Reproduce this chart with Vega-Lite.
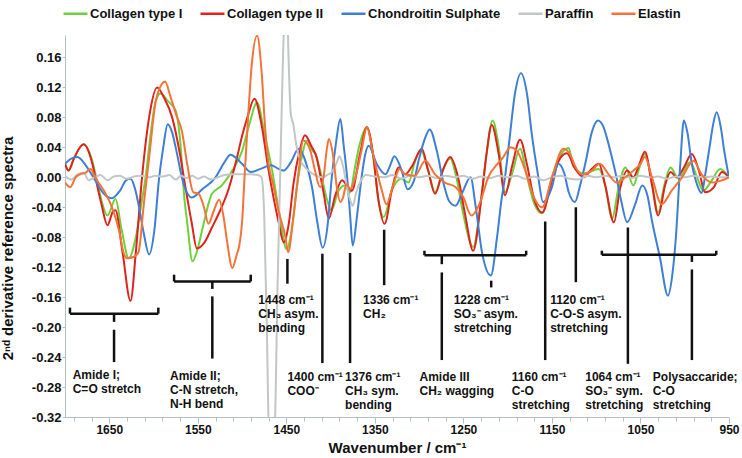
{
  "$schema": "https://vega.github.io/schema/vega-lite/v6.json",
  "width": 664,
  "height": 382,
  "autosize": {"type": "none"},
  "padding": {"left": 65, "top": 35, "right": 13, "bottom": 41},
  "background": "white",
  "config": {
    "view": {"stroke": null},
    "font": "Liberation Sans",
    "axis": {"grid": false, "labelOverlap": false, "domainColor": "#b4bec6", "tickColor": "#b4bec6", "labelColor": "#111", "labelFontWeight": "bold", "titleFontWeight": "bold", "titleColor": "#111", "labelFont": "Liberation Sans", "titleFont": "Liberation Sans"}
  },
  "resolve": {"axis": {"x": "independent", "y": "independent"}},
  "datasets": {
    "spectra": [
      {"s":"Collagen type I","x":1700,"y":0.018},{"s":"Collagen type I","x":1696,"y":0.009},{"s":"Collagen type I","x":1690,"y":0.025},{"s":"Collagen type I","x":1679,"y":0.044},{"s":"Collagen type I","x":1670,"y":0.025},{"s":"Collagen type I","x":1664,"y":-0.004},{"s":"Collagen type I","x":1659,"y":-0.03},{"s":"Collagen type I","x":1652,"y":-0.051},{"s":"Collagen type I","x":1643,"y":-0.029},{"s":"Collagen type I","x":1636,"y":-0.07},{"s":"Collagen type I","x":1628,"y":-0.108},{"s":"Collagen type I","x":1620,"y":-0.08},{"s":"Collagen type I","x":1613,"y":-0.03},{"s":"Collagen type I","x":1609,"y":0.0},{"s":"Collagen type I","x":1603,"y":0.06},{"s":"Collagen type I","x":1598,"y":0.1},{"s":"Collagen type I","x":1592,"y":0.112},{"s":"Collagen type I","x":1584,"y":0.102},{"s":"Collagen type I","x":1575,"y":0.089},{"s":"Collagen type I","x":1570,"y":0.05},{"s":"Collagen type I","x":1565,"y":-0.03},{"s":"Collagen type I","x":1562,"y":-0.06},{"s":"Collagen type I","x":1556,"y":-0.112},{"s":"Collagen type I","x":1550,"y":-0.095},{"s":"Collagen type I","x":1545,"y":-0.07},{"s":"Collagen type I","x":1534,"y":-0.022},{"s":"Collagen type I","x":1523,"y":-0.011},{"s":"Collagen type I","x":1511,"y":0.009},{"s":"Collagen type I","x":1500,"y":0.035},{"s":"Collagen type I","x":1492,"y":0.07},{"s":"Collagen type I","x":1483,"y":0.1},{"s":"Collagen type I","x":1475,"y":0.06},{"s":"Collagen type I","x":1466,"y":0.009},{"s":"Collagen type I","x":1459,"y":-0.04},{"s":"Collagen type I","x":1449.5,"y":-0.096},{"s":"Collagen type I","x":1444,"y":-0.07},{"s":"Collagen type I","x":1438,"y":-0.013},{"s":"Collagen type I","x":1432,"y":0.03},{"s":"Collagen type I","x":1427,"y":0.049},{"s":"Collagen type I","x":1420,"y":0.035},{"s":"Collagen type I","x":1417,"y":0.031},{"s":"Collagen type I","x":1410,"y":0.0},{"s":"Collagen type I","x":1404,"y":-0.03},{"s":"Collagen type I","x":1399,"y":-0.044},{"s":"Collagen type I","x":1391,"y":-0.018},{"s":"Collagen type I","x":1384,"y":-0.011},{"s":"Collagen type I","x":1378,"y":-0.02},{"s":"Collagen type I","x":1373,"y":0.01},{"s":"Collagen type I","x":1368,"y":0.04},{"s":"Collagen type I","x":1359,"y":0.067},{"s":"Collagen type I","x":1352,"y":0.03},{"s":"Collagen type I","x":1346,"y":-0.03},{"s":"Collagen type I","x":1340,"y":-0.053},{"s":"Collagen type I","x":1331,"y":-0.018},{"s":"Collagen type I","x":1320,"y":-0.002},{"s":"Collagen type I","x":1312,"y":-0.007},{"s":"Collagen type I","x":1305,"y":0.02},{"s":"Collagen type I","x":1298,"y":0.036},{"s":"Collagen type I","x":1290,"y":0.01},{"s":"Collagen type I","x":1282,"y":-0.02},{"s":"Collagen type I","x":1273,"y":0.01},{"s":"Collagen type I","x":1265,"y":0.025},{"s":"Collagen type I","x":1258,"y":0.0},{"s":"Collagen type I","x":1250,"y":-0.05},{"s":"Collagen type I","x":1239,"y":-0.093},{"s":"Collagen type I","x":1230,"y":-0.03},{"s":"Collagen type I","x":1224,"y":0.03},{"s":"Collagen type I","x":1217,"y":0.076},{"s":"Collagen type I","x":1210,"y":0.04},{"s":"Collagen type I","x":1203,"y":-0.02},{"s":"Collagen type I","x":1195,"y":0.005},{"s":"Collagen type I","x":1186,"y":0.038},{"s":"Collagen type I","x":1178,"y":0.0},{"s":"Collagen type I","x":1170,"y":-0.035},{"s":"Collagen type I","x":1161,"y":-0.048},{"s":"Collagen type I","x":1150,"y":0.0},{"s":"Collagen type I","x":1140,"y":0.03},{"s":"Collagen type I","x":1131,"y":0.039},{"s":"Collagen type I","x":1126,"y":0.015},{"s":"Collagen type I","x":1114,"y":0.005},{"s":"Collagen type I","x":1097,"y":0.011},{"s":"Collagen type I","x":1090,"y":-0.01},{"s":"Collagen type I","x":1082,"y":-0.055},{"s":"Collagen type I","x":1075,"y":-0.015},{"s":"Collagen type I","x":1067,"y":0.013},{"s":"Collagen type I","x":1058,"y":-0.011},{"s":"Collagen type I","x":1052,"y":0.01},{"s":"Collagen type I","x":1045,"y":0.031},{"s":"Collagen type I","x":1038,"y":0.0},{"s":"Collagen type I","x":1030,"y":-0.047},{"s":"Collagen type I","x":1023,"y":-0.01},{"s":"Collagen type I","x":1016,"y":0.013},{"s":"Collagen type I","x":1007,"y":-0.002},{"s":"Collagen type I","x":994,"y":0.02},{"s":"Collagen type I","x":986,"y":0.0},{"s":"Collagen type I","x":979,"y":-0.018},{"s":"Collagen type I","x":970,"y":-0.005},{"s":"Collagen type I","x":960,"y":0.011},{"s":"Collagen type I","x":950,"y":0.0},

      {"s":"Collagen type II","x":1700,"y":0.018},{"s":"Collagen type II","x":1696,"y":0.009},{"s":"Collagen type II","x":1690,"y":0.025},{"s":"Collagen type II","x":1679,"y":0.044},{"s":"Collagen type II","x":1670,"y":0.022},{"s":"Collagen type II","x":1665,"y":-0.004},{"s":"Collagen type II","x":1659,"y":-0.035},{"s":"Collagen type II","x":1652,"y":-0.064},{"s":"Collagen type II","x":1646,"y":-0.046},{"s":"Collagen type II","x":1643,"y":-0.044},{"s":"Collagen type II","x":1635,"y":-0.1},{"s":"Collagen type II","x":1626,"y":-0.165},{"s":"Collagen type II","x":1620,"y":-0.1},{"s":"Collagen type II","x":1613,"y":0.0},{"s":"Collagen type II","x":1605,"y":0.08},{"s":"Collagen type II","x":1596,"y":0.12},{"s":"Collagen type II","x":1588,"y":0.106},{"s":"Collagen type II","x":1579,"y":0.08},{"s":"Collagen type II","x":1570,"y":0.03},{"s":"Collagen type II","x":1564,"y":-0.013},{"s":"Collagen type II","x":1557,"y":-0.06},{"s":"Collagen type II","x":1551,"y":-0.095},{"s":"Collagen type II","x":1543,"y":-0.088},{"s":"Collagen type II","x":1534,"y":-0.067},{"s":"Collagen type II","x":1525,"y":-0.045},{"s":"Collagen type II","x":1515,"y":-0.015},{"s":"Collagen type II","x":1505,"y":0.03},{"s":"Collagen type II","x":1500,"y":0.055},{"s":"Collagen type II","x":1494,"y":0.08},{"s":"Collagen type II","x":1486,"y":0.105},{"s":"Collagen type II","x":1478,"y":0.07},{"s":"Collagen type II","x":1470,"y":0.009},{"s":"Collagen type II","x":1459,"y":-0.058},{"s":"Collagen type II","x":1453,"y":-0.087},{"s":"Collagen type II","x":1447,"y":-0.06},{"s":"Collagen type II","x":1442,"y":-0.009},{"s":"Collagen type II","x":1435,"y":0.035},{"s":"Collagen type II","x":1429,"y":0.056},{"s":"Collagen type II","x":1421,"y":0.04},{"s":"Collagen type II","x":1417,"y":0.031},{"s":"Collagen type II","x":1408,"y":-0.02},{"s":"Collagen type II","x":1402,"y":-0.055},{"s":"Collagen type II","x":1395,"y":-0.025},{"s":"Collagen type II","x":1387,"y":-0.004},{"s":"Collagen type II","x":1382,"y":-0.01},{"s":"Collagen type II","x":1376,"y":-0.018},{"s":"Collagen type II","x":1367,"y":0.03},{"s":"Collagen type II","x":1359,"y":0.067},{"s":"Collagen type II","x":1352,"y":0.03},{"s":"Collagen type II","x":1346,"y":-0.03},{"s":"Collagen type II","x":1339,"y":-0.062},{"s":"Collagen type II","x":1331,"y":-0.018},{"s":"Collagen type II","x":1323,"y":0.013},{"s":"Collagen type II","x":1316,"y":0.004},{"s":"Collagen type II","x":1308,"y":0.015},{"s":"Collagen type II","x":1297,"y":0.038},{"s":"Collagen type II","x":1290,"y":0.01},{"s":"Collagen type II","x":1282,"y":-0.022},{"s":"Collagen type II","x":1273,"y":0.01},{"s":"Collagen type II","x":1265,"y":0.027},{"s":"Collagen type II","x":1256,"y":0.0},{"s":"Collagen type II","x":1248,"y":-0.05},{"s":"Collagen type II","x":1239,"y":-0.098},{"s":"Collagen type II","x":1229,"y":-0.02},{"s":"Collagen type II","x":1224,"y":0.03},{"s":"Collagen type II","x":1218,"y":0.07},{"s":"Collagen type II","x":1210,"y":0.03},{"s":"Collagen type II","x":1203,"y":-0.024},{"s":"Collagen type II","x":1195,"y":0.015},{"s":"Collagen type II","x":1186,"y":0.05},{"s":"Collagen type II","x":1178,"y":0.016},{"s":"Collagen type II","x":1171,"y":-0.025},{"s":"Collagen type II","x":1161,"y":-0.047},{"s":"Collagen type II","x":1150,"y":-0.005},{"s":"Collagen type II","x":1141,"y":0.025},{"s":"Collagen type II","x":1133,"y":0.032},{"s":"Collagen type II","x":1124,"y":0.012},{"s":"Collagen type II","x":1114,"y":0.0},{"s":"Collagen type II","x":1106,"y":0.01},{"s":"Collagen type II","x":1097,"y":0.018},{"s":"Collagen type II","x":1090,"y":-0.01},{"s":"Collagen type II","x":1080,"y":-0.06},{"s":"Collagen type II","x":1073,"y":-0.015},{"s":"Collagen type II","x":1065,"y":0.009},{"s":"Collagen type II","x":1058,"y":0.0},{"s":"Collagen type II","x":1052,"y":0.015},{"s":"Collagen type II","x":1045,"y":0.034},{"s":"Collagen type II","x":1037,"y":-0.01},{"s":"Collagen type II","x":1030,"y":-0.051},{"s":"Collagen type II","x":1022,"y":-0.01},{"s":"Collagen type II","x":1016,"y":0.007},{"s":"Collagen type II","x":1009,"y":0.0},{"s":"Collagen type II","x":1001,"y":0.013},{"s":"Collagen type II","x":992,"y":0.031},{"s":"Collagen type II","x":984,"y":0.009},{"s":"Collagen type II","x":977,"y":-0.02},{"s":"Collagen type II","x":967,"y":-0.013},{"s":"Collagen type II","x":958,"y":0.007},{"s":"Collagen type II","x":950,"y":0.0},

      {"s":"Chondroitin Sulphate","x":1700,"y":0.018},{"s":"Chondroitin Sulphate","x":1693,"y":0.025},{"s":"Chondroitin Sulphate","x":1686,"y":0.027},{"s":"Chondroitin Sulphate","x":1676,"y":0.015},{"s":"Chondroitin Sulphate","x":1666,"y":-0.004},{"s":"Chondroitin Sulphate","x":1656,"y":-0.022},{"s":"Chondroitin Sulphate","x":1647,"y":-0.028},{"s":"Chondroitin Sulphate","x":1638,"y":-0.018},{"s":"Chondroitin Sulphate","x":1631,"y":-0.004},{"s":"Chondroitin Sulphate","x":1626,"y":-0.002},{"s":"Chondroitin Sulphate","x":1621,"y":-0.015},{"s":"Chondroitin Sulphate","x":1617,"y":-0.036},{"s":"Chondroitin Sulphate","x":1611,"y":-0.075},{"s":"Chondroitin Sulphate","x":1605,"y":-0.103},{"s":"Chondroitin Sulphate","x":1599,"y":-0.07},{"s":"Chondroitin Sulphate","x":1594,"y":-0.004},{"s":"Chondroitin Sulphate","x":1589,"y":0.04},{"s":"Chondroitin Sulphate","x":1584,"y":0.071},{"s":"Chondroitin Sulphate","x":1579,"y":0.06},{"s":"Chondroitin Sulphate","x":1575,"y":0.04},{"s":"Chondroitin Sulphate","x":1566,"y":-0.009},{"s":"Chondroitin Sulphate","x":1557,"y":-0.027},{"s":"Chondroitin Sulphate","x":1545,"y":-0.016},{"s":"Chondroitin Sulphate","x":1530,"y":0.0},{"s":"Chondroitin Sulphate","x":1520,"y":0.02},{"s":"Chondroitin Sulphate","x":1513,"y":0.03},{"s":"Chondroitin Sulphate","x":1506,"y":0.025},{"s":"Chondroitin Sulphate","x":1500,"y":0.018},{"s":"Chondroitin Sulphate","x":1490,"y":0.007},{"s":"Chondroitin Sulphate","x":1480,"y":0.011},{"s":"Chondroitin Sulphate","x":1467,"y":0.016},{"s":"Chondroitin Sulphate","x":1460,"y":0.012},{"s":"Chondroitin Sulphate","x":1453,"y":0.009},{"s":"Chondroitin Sulphate","x":1445,"y":0.02},{"s":"Chondroitin Sulphate","x":1436,"y":0.038},{"s":"Chondroitin Sulphate","x":1428,"y":0.02},{"s":"Chondroitin Sulphate","x":1421,"y":-0.013},{"s":"Chondroitin Sulphate","x":1415,"y":-0.06},{"s":"Chondroitin Sulphate","x":1409,"y":-0.094},{"s":"Chondroitin Sulphate","x":1403,"y":-0.06},{"s":"Chondroitin Sulphate","x":1399,"y":-0.004},{"s":"Chondroitin Sulphate","x":1394,"y":0.045},{"s":"Chondroitin Sulphate","x":1389,"y":0.078},{"s":"Chondroitin Sulphate","x":1385,"y":0.04},{"s":"Chondroitin Sulphate","x":1381,"y":-0.004},{"s":"Chondroitin Sulphate","x":1378,"y":-0.05},{"s":"Chondroitin Sulphate","x":1375,"y":-0.091},{"s":"Chondroitin Sulphate","x":1370,"y":-0.05},{"s":"Chondroitin Sulphate","x":1365,"y":0.0},{"s":"Chondroitin Sulphate","x":1361,"y":0.03},{"s":"Chondroitin Sulphate","x":1357,"y":0.042},{"s":"Chondroitin Sulphate","x":1348,"y":0.018},{"s":"Chondroitin Sulphate","x":1338,"y":0.004},{"s":"Chondroitin Sulphate","x":1333,"y":0.015},{"s":"Chondroitin Sulphate","x":1328,"y":0.028},{"s":"Chondroitin Sulphate","x":1320,"y":0.01},{"s":"Chondroitin Sulphate","x":1313,"y":-0.016},{"s":"Chondroitin Sulphate","x":1306,"y":-0.005},{"s":"Chondroitin Sulphate","x":1300,"y":0.025},{"s":"Chondroitin Sulphate","x":1294,"y":0.05},{"s":"Chondroitin Sulphate","x":1288,"y":0.064},{"s":"Chondroitin Sulphate","x":1280,"y":0.035},{"s":"Chondroitin Sulphate","x":1272,"y":-0.01},{"s":"Chondroitin Sulphate","x":1266,"y":-0.032},{"s":"Chondroitin Sulphate","x":1259,"y":-0.038},{"s":"Chondroitin Sulphate","x":1251,"y":-0.02},{"s":"Chondroitin Sulphate","x":1242,"y":0.0},{"s":"Chondroitin Sulphate","x":1236,"y":-0.04},{"s":"Chondroitin Sulphate","x":1229,"y":-0.1},{"s":"Chondroitin Sulphate","x":1219,"y":-0.131},{"s":"Chondroitin Sulphate","x":1212,"y":-0.08},{"s":"Chondroitin Sulphate","x":1207,"y":-0.03},{"s":"Chondroitin Sulphate","x":1203,"y":0.0},{"s":"Chondroitin Sulphate","x":1198,"y":0.05},{"s":"Chondroitin Sulphate","x":1192,"y":0.11},{"s":"Chondroitin Sulphate","x":1185,"y":0.139},{"s":"Chondroitin Sulphate","x":1178,"y":0.11},{"s":"Chondroitin Sulphate","x":1173,"y":0.06},{"s":"Chondroitin Sulphate","x":1166,"y":0.005},{"s":"Chondroitin Sulphate","x":1160,"y":-0.033},{"s":"Chondroitin Sulphate","x":1150,"y":-0.013},{"s":"Chondroitin Sulphate","x":1143,"y":0.018},{"s":"Chondroitin Sulphate","x":1136,"y":0.005},{"s":"Chondroitin Sulphate","x":1131,"y":-0.02},{"s":"Chondroitin Sulphate","x":1124,"y":-0.033},{"s":"Chondroitin Sulphate","x":1118,"y":-0.01},{"s":"Chondroitin Sulphate","x":1112,"y":0.02},{"s":"Chondroitin Sulphate","x":1105,"y":0.06},{"s":"Chondroitin Sulphate","x":1098,"y":0.076},{"s":"Chondroitin Sulphate","x":1092,"y":0.068},{"s":"Chondroitin Sulphate","x":1088,"y":0.053},{"s":"Chondroitin Sulphate","x":1083,"y":0.03},{"s":"Chondroitin Sulphate","x":1078,"y":0.005},{"s":"Chondroitin Sulphate","x":1072,"y":-0.03},{"s":"Chondroitin Sulphate","x":1065,"y":-0.06},{"s":"Chondroitin Sulphate","x":1056,"y":-0.036},{"s":"Chondroitin Sulphate","x":1048,"y":-0.011},{"s":"Chondroitin Sulphate","x":1042,"y":-0.025},{"s":"Chondroitin Sulphate","x":1037,"y":-0.058},{"s":"Chondroitin Sulphate","x":1028,"y":-0.107},{"s":"Chondroitin Sulphate","x":1019,"y":-0.158},{"s":"Chondroitin Sulphate","x":1014,"y":-0.13},{"s":"Chondroitin Sulphate","x":1010,"y":-0.08},{"s":"Chondroitin Sulphate","x":1005,"y":0.018},{"s":"Chondroitin Sulphate","x":1001,"y":0.076},{"s":"Chondroitin Sulphate","x":997,"y":0.06},{"s":"Chondroitin Sulphate","x":992,"y":0.018},{"s":"Chondroitin Sulphate","x":986,"y":-0.01},{"s":"Chondroitin Sulphate","x":981,"y":-0.021},{"s":"Chondroitin Sulphate","x":976,"y":0.01},{"s":"Chondroitin Sulphate","x":972,"y":0.04},{"s":"Chondroitin Sulphate","x":968,"y":0.07},{"s":"Chondroitin Sulphate","x":964,"y":0.087},{"s":"Chondroitin Sulphate","x":959,"y":0.065},{"s":"Chondroitin Sulphate","x":956,"y":0.04},{"s":"Chondroitin Sulphate","x":950,"y":0.0},

      {"s":"Paraffin","x":1700,"y":0.002},{"s":"Paraffin","x":1693,"y":-0.003},{"s":"Paraffin","x":1686,"y":0.004},{"s":"Paraffin","x":1679,"y":0.006},{"s":"Paraffin","x":1673,"y":-0.004},{"s":"Paraffin","x":1667,"y":0.0},{"s":"Paraffin","x":1660,"y":0.003},{"s":"Paraffin","x":1652,"y":-0.004},{"s":"Paraffin","x":1645,"y":0.001},{"s":"Paraffin","x":1638,"y":0.002},{"s":"Paraffin","x":1630,"y":-0.002},{"s":"Paraffin","x":1622,"y":0.001},{"s":"Paraffin","x":1614,"y":0.002},{"s":"Paraffin","x":1605,"y":0.0},{"s":"Paraffin","x":1598,"y":0.002},{"s":"Paraffin","x":1590,"y":0.001},{"s":"Paraffin","x":1582,"y":0.003},{"s":"Paraffin","x":1575,"y":-0.003},{"s":"Paraffin","x":1569,"y":0.002},{"s":"Paraffin","x":1563,"y":-0.001},{"s":"Paraffin","x":1556,"y":0.002},{"s":"Paraffin","x":1550,"y":-0.002},{"s":"Paraffin","x":1543,"y":0.001},{"s":"Paraffin","x":1535,"y":-0.003},{"s":"Paraffin","x":1527,"y":0.0},{"s":"Paraffin","x":1520,"y":0.003},{"s":"Paraffin","x":1510,"y":0.004},{"s":"Paraffin","x":1500,"y":0.004},{"s":"Paraffin","x":1490,"y":0.004},{"s":"Paraffin","x":1482,"y":0.003},{"s":"Paraffin","x":1478,"y":0.0},{"s":"Paraffin","x":1475,"y":-0.05},{"s":"Paraffin","x":1472,"y":-0.2},{"s":"Paraffin","x":1469,"y":-0.4},{"s":"Paraffin","x":1466,"y":-0.45},{"s":"Paraffin","x":1463,"y":-0.35},{"s":"Paraffin","x":1460,"y":-0.15},{"s":"Paraffin","x":1457,"y":0.0},{"s":"Paraffin","x":1454,"y":0.15},{"s":"Paraffin","x":1451,"y":0.24},{"s":"Paraffin","x":1449,"y":0.22},{"s":"Paraffin","x":1447,"y":0.14},{"s":"Paraffin","x":1445,"y":0.085},{"s":"Paraffin","x":1442,"y":0.07},{"s":"Paraffin","x":1439,"y":0.045},{"s":"Paraffin","x":1435,"y":0.025},{"s":"Paraffin","x":1430,"y":0.015},{"s":"Paraffin","x":1424,"y":0.008},{"s":"Paraffin","x":1418,"y":0.003},{"s":"Paraffin","x":1410,"y":0.0},{"s":"Paraffin","x":1404,"y":0.003},{"s":"Paraffin","x":1398,"y":0.008},{"s":"Paraffin","x":1393,"y":0.02},{"s":"Paraffin","x":1390,"y":0.028},{"s":"Paraffin","x":1386,"y":0.015},{"s":"Paraffin","x":1382,"y":-0.01},{"s":"Paraffin","x":1378,"y":-0.03},{"s":"Paraffin","x":1375,"y":-0.038},{"s":"Paraffin","x":1371,"y":-0.02},{"s":"Paraffin","x":1366,"y":-0.005},{"s":"Paraffin","x":1360,"y":0.003},{"s":"Paraffin","x":1350,"y":0.001},{"s":"Paraffin","x":1340,"y":0.0},{"s":"Paraffin","x":1330,"y":0.003},{"s":"Paraffin","x":1320,"y":-0.002},{"s":"Paraffin","x":1310,"y":0.002},{"s":"Paraffin","x":1300,"y":0.0},{"s":"Paraffin","x":1290,"y":0.002},{"s":"Paraffin","x":1280,"y":-0.001},{"s":"Paraffin","x":1270,"y":0.002},{"s":"Paraffin","x":1260,"y":0.0},{"s":"Paraffin","x":1250,"y":0.002},{"s":"Paraffin","x":1240,"y":-0.002},{"s":"Paraffin","x":1230,"y":0.001},{"s":"Paraffin","x":1220,"y":-0.001},{"s":"Paraffin","x":1210,"y":0.002},{"s":"Paraffin","x":1200,"y":0.0},{"s":"Paraffin","x":1190,"y":0.002},{"s":"Paraffin","x":1180,"y":-0.002},{"s":"Paraffin","x":1170,"y":0.001},{"s":"Paraffin","x":1160,"y":-0.004},{"s":"Paraffin","x":1150,"y":0.0},{"s":"Paraffin","x":1140,"y":0.002},{"s":"Paraffin","x":1130,"y":-0.002},{"s":"Paraffin","x":1120,"y":-0.003},{"s":"Paraffin","x":1110,"y":0.002},{"s":"Paraffin","x":1100,"y":0.0},{"s":"Paraffin","x":1090,"y":0.002},{"s":"Paraffin","x":1080,"y":0.0},{"s":"Paraffin","x":1070,"y":0.002},{"s":"Paraffin","x":1060,"y":-0.001},{"s":"Paraffin","x":1050,"y":0.002},{"s":"Paraffin","x":1040,"y":0.0},{"s":"Paraffin","x":1030,"y":0.001},{"s":"Paraffin","x":1020,"y":-0.002},{"s":"Paraffin","x":1010,"y":0.001},{"s":"Paraffin","x":1000,"y":0.0},{"s":"Paraffin","x":990,"y":0.002},{"s":"Paraffin","x":980,"y":0.0},{"s":"Paraffin","x":970,"y":0.001},{"s":"Paraffin","x":960,"y":0.0},{"s":"Paraffin","x":950,"y":0.0},

      {"s":"Elastin","x":1700,"y":-0.007},{"s":"Elastin","x":1694,"y":-0.013},{"s":"Elastin","x":1688,"y":0.0},{"s":"Elastin","x":1683,"y":0.004},{"s":"Elastin","x":1677,"y":0.006},{"s":"Elastin","x":1671,"y":0.011},{"s":"Elastin","x":1666,"y":0.0},{"s":"Elastin","x":1656,"y":-0.018},{"s":"Elastin","x":1647,"y":-0.04},{"s":"Elastin","x":1639,"y":-0.071},{"s":"Elastin","x":1634,"y":-0.1},{"s":"Elastin","x":1630,"y":-0.108},{"s":"Elastin","x":1622,"y":-0.106},{"s":"Elastin","x":1617,"y":-0.1},{"s":"Elastin","x":1611,"y":-0.036},{"s":"Elastin","x":1605,"y":0.026},{"s":"Elastin","x":1598,"y":0.098},{"s":"Elastin","x":1591,"y":0.124},{"s":"Elastin","x":1587,"y":0.128},{"s":"Elastin","x":1581,"y":0.108},{"s":"Elastin","x":1574,"y":0.082},{"s":"Elastin","x":1568,"y":0.062},{"s":"Elastin","x":1562,"y":0.018},{"s":"Elastin","x":1555,"y":-0.02},{"s":"Elastin","x":1549,"y":-0.022},{"s":"Elastin","x":1543,"y":-0.04},{"s":"Elastin","x":1538,"y":-0.062},{"s":"Elastin","x":1532,"y":-0.045},{"s":"Elastin","x":1526,"y":-0.03},{"s":"Elastin","x":1521,"y":-0.052},{"s":"Elastin","x":1517,"y":-0.085},{"s":"Elastin","x":1511,"y":-0.121},{"s":"Elastin","x":1506,"y":-0.103},{"s":"Elastin","x":1503,"y":-0.09},{"s":"Elastin","x":1500,"y":-0.06},{"s":"Elastin","x":1497,"y":0.005},{"s":"Elastin","x":1493,"y":0.084},{"s":"Elastin","x":1489,"y":0.151},{"s":"Elastin","x":1483,"y":0.189},{"s":"Elastin","x":1478,"y":0.142},{"s":"Elastin","x":1474,"y":0.067},{"s":"Elastin","x":1470,"y":0.018},{"s":"Elastin","x":1465,"y":-0.009},{"s":"Elastin","x":1459,"y":-0.044},{"s":"Elastin","x":1451,"y":-0.08},{"s":"Elastin","x":1448,"y":-0.1},{"s":"Elastin","x":1442,"y":-0.053},{"s":"Elastin","x":1436,"y":0.009},{"s":"Elastin","x":1431,"y":0.049},{"s":"Elastin","x":1423,"y":0.036},{"s":"Elastin","x":1418,"y":0.011},{"s":"Elastin","x":1412,"y":-0.013},{"s":"Elastin","x":1408,"y":0.0},{"s":"Elastin","x":1404,"y":0.04},{"s":"Elastin","x":1402,"y":0.051},{"s":"Elastin","x":1397,"y":0.027},{"s":"Elastin","x":1393,"y":-0.013},{"s":"Elastin","x":1389,"y":-0.033},{"s":"Elastin","x":1386,"y":-0.027},{"s":"Elastin","x":1382,"y":-0.009},{"s":"Elastin","x":1378,"y":-0.016},{"s":"Elastin","x":1372,"y":0.0},{"s":"Elastin","x":1365,"y":0.036},{"s":"Elastin","x":1359,"y":0.067},{"s":"Elastin","x":1352,"y":0.031},{"s":"Elastin","x":1342,"y":-0.018},{"s":"Elastin","x":1337,"y":-0.036},{"s":"Elastin","x":1329,"y":-0.009},{"s":"Elastin","x":1322,"y":0.011},{"s":"Elastin","x":1316,"y":0.004},{"s":"Elastin","x":1305,"y":0.002},{"s":"Elastin","x":1293,"y":0.022},{"s":"Elastin","x":1282,"y":0.004},{"s":"Elastin","x":1271,"y":-0.007},{"s":"Elastin","x":1259,"y":-0.013},{"s":"Elastin","x":1250,"y":-0.027},{"s":"Elastin","x":1241,"y":-0.051},{"s":"Elastin","x":1231,"y":-0.033},{"s":"Elastin","x":1222,"y":0.0},{"s":"Elastin","x":1210,"y":0.02},{"s":"Elastin","x":1205,"y":0.027},{"s":"Elastin","x":1197,"y":0.04},{"s":"Elastin","x":1190,"y":0.036},{"s":"Elastin","x":1180,"y":0.009},{"s":"Elastin","x":1171,"y":-0.025},{"s":"Elastin","x":1161,"y":-0.04},{"s":"Elastin","x":1150,"y":0.0},{"s":"Elastin","x":1137,"y":0.038},{"s":"Elastin","x":1128,"y":0.027},{"s":"Elastin","x":1125,"y":0.018},{"s":"Elastin","x":1116,"y":0.004},{"s":"Elastin","x":1105,"y":0.009},{"s":"Elastin","x":1096,"y":0.018},{"s":"Elastin","x":1086,"y":0.004},{"s":"Elastin","x":1077,"y":-0.007},{"s":"Elastin","x":1067,"y":0.0},{"s":"Elastin","x":1060,"y":0.007},{"s":"Elastin","x":1050,"y":0.018},{"s":"Elastin","x":1045,"y":0.027},{"s":"Elastin","x":1037,"y":0.0},{"s":"Elastin","x":1026,"y":-0.036},{"s":"Elastin","x":1015,"y":-0.018},{"s":"Elastin","x":1003,"y":0.0},{"s":"Elastin","x":994,"y":0.018},{"s":"Elastin","x":990,"y":0.022},{"s":"Elastin","x":981,"y":0.004},{"s":"Elastin","x":969,"y":-0.007},{"s":"Elastin","x":958,"y":-0.004},{"s":"Elastin","x":950,"y":0.0}
    ],
    "segments": [
      {"x":1694.4,"xe":1594.6,"y":-0.182,"ye":-0.182},
      {"x":1694.4,"xe":1694.4,"y":-0.182,"ye":-0.174},
      {"x":1594.6,"xe":1594.6,"y":-0.182,"ye":-0.174},
      {"x":1644.6,"xe":1644.6,"y":-0.182,"ye":-0.193},
      {"x":1644.6,"xe":1644.6,"y":-0.2035,"ye":-0.2467},
      {"x":1576.8,"xe":1490.2,"y":-0.139,"ye":-0.139},
      {"x":1576.8,"xe":1576.8,"y":-0.139,"ye":-0.13},
      {"x":1490.2,"xe":1490.2,"y":-0.139,"ye":-0.13},
      {"x":1533.6,"xe":1533.6,"y":-0.139,"ye":-0.149},
      {"x":1533.6,"xe":1533.6,"y":-0.159,"ye":-0.242},
      {"x":1448.8,"xe":1448.8,"y":-0.109,"ye":-0.142},
      {"x":1409.3,"xe":1409.3,"y":-0.102,"ye":-0.248},
      {"x":1378,"xe":1378,"y":-0.101,"ye":-0.248},
      {"x":1339.5,"xe":1339.5,"y":-0.07,"ye":-0.144},
      {"x":1294,"xe":1179.1,"y":-0.104,"ye":-0.104},
      {"x":1294,"xe":1294,"y":-0.104,"ye":-0.098},
      {"x":1179.1,"xe":1179.1,"y":-0.104,"ye":-0.098},
      {"x":1274.4,"xe":1274.4,"y":-0.104,"ye":-0.116},
      {"x":1274.4,"xe":1274.4,"y":-0.127,"ye":-0.244},
      {"x":1218.6,"xe":1218.6,"y":-0.138,"ye":-0.147},
      {"x":1157.6,"xe":1157.6,"y":-0.059,"ye":-0.244},
      {"x":1123,"xe":1123,"y":-0.04,"ye":-0.14},
      {"x":1093.6,"xe":964.4,"y":-0.1035,"ye":-0.1035},
      {"x":1093.6,"xe":1093.6,"y":-0.1035,"ye":-0.098},
      {"x":964.4,"xe":964.4,"y":-0.1035,"ye":-0.098},
      {"x":991.9,"xe":991.9,"y":-0.1035,"ye":-0.113},
      {"x":991.9,"xe":991.9,"y":-0.123,"ye":-0.244},
      {"x":1064.2,"xe":1064.2,"y":-0.067,"ye":-0.249}
    ],
    "labels": [
      {"x":1691.3,"y":-0.257,"t":"Amide I;\nC=O stretch"},
      {"x":1581.4,"y":-0.259,"t":"Amide II;\nC-N stretch,\nN-H bend"},
      {"x":1481.6,"y":-0.157,"t":"1448 cm⁻¹\nCH₃ asym.\nbending"},
      {"x":1448.8,"y":-0.26,"t":"1400 cm⁻¹\nCOO⁻"},
      {"x":1383.6,"y":-0.26,"t":"1376 cm⁻¹\nCH₃ sym.\nbending"},
      {"x":1363.3,"y":-0.157,"t":"1336 cm⁻¹\nCH₂"},
      {"x":1299.6,"y":-0.26,"t":"Amide III\nCH₂ wagging"},
      {"x":1261,"y":-0.157,"t":"1228 cm⁻¹\nSO₃⁻ asym.\nstretching"},
      {"x":1195.3,"y":-0.26,"t":"1160 cm⁻¹\nC-O\nstretching"},
      {"x":1152,"y":-0.157,"t":"1120 cm⁻¹\nC-O-S asym.\nstretching"},
      {"x":1112.4,"y":-0.26,"t":"1064 cm⁻¹\nSO₃⁻ sym.\nstretching"},
      {"x":1036,"y":-0.26,"t":"Polysaccaride;\nC-O\nstretching"}
    ]
  },
  "layer": [
    {
      "data": {"name": "spectra"},
      "mark": {"type": "line", "interpolate": "monotone", "strokeWidth": 2, "clip": true},
      "encoding": {
        "x": {"field": "x", "type": "quantitative",
          "scale": {"domain": [950, 1700], "reverse": true, "nice": false, "zero": false},
          "axis": {"orient": "bottom", "title": "Wavenumber / cm⁻¹", "titleFontSize": 15, "titlePadding": 5,
            "values": [1650,1550,1450,1350,1250,1150,1050,950],
            "format": "d", "labelFontSize": 12, "tickSize": 6, "labelPadding": 1, "labelOverlap": false, "labelFlush": false}},
        "y": {"field": "y", "type": "quantitative",
          "scale": {"domain": [-0.32, 0.19], "nice": false, "zero": false},
          "axis": {"orient": "left", "title": "2ⁿᵈ derivative reference spectra", "titleFontSize": 15, "titleX": -50, "titleY": 213,
            "values": [-0.32,-0.28,-0.24,-0.2,-0.16,-0.12,-0.08,-0.04,0,0.04,0.08,0.12,0.16],
            "format": ".2f", "labelExpr": "replace(datum.label, '−', '-')", "labelOverlap": false, "labelFlush": false,
            "labelFontSize": 13, "tickSize": 3, "labelPadding": 1}},
        "color": {"field": "s", "type": "nominal",
          "scale": {"domain": ["Collagen type I", "Collagen type II", "Chondroitin Sulphate", "Paraffin", "Elastin"],
                    "range": ["#6cd23c", "#e0221d", "#3d7fd6", "#c2c6c6", "#f47339"]},
          "legend": {"title": null, "orient": "none", "direction": "horizontal", "legendX": -3, "legendY": -35,
            "symbolType": "stroke", "symbolSize": 576, "symbolStrokeWidth": 2.5, "labelFontSize": 13,
            "labelFontWeight": "bold", "labelColor": "#111", "labelFont": "Liberation Sans", "labelOffset": 1, "columnPadding": 12, "padding": 0, "labelLimit": 300}}
      }
    },
    {
      "data": {"name": "segments"},
      "mark": {"type": "rule", "strokeWidth": 2.5, "color": "#111"},
      "encoding": {
        "x": {"field": "x", "type": "quantitative",
          "axis": {"orient": "bottom", "title": null, "labels": false, "domain": false, "tickSize": 4,
            "values": [1690,1670,1630,1610,1590,1570,1530,1510,1490,1470,1430,1410,1390,1370,1330,1310,1290,1270,1230,1210,1190,1170,1130,1110,1090,1070,1030,1010,990,970]}},
        "x2": {"field": "xe"},
        "y": {"field": "y", "type": "quantitative", "axis": null},
        "y2": {"field": "ye"}
      }
    },
    {
      "data": {"name": "labels"},
      "mark": {"type": "text", "align": "left", "baseline": "top", "lineBreak": "\n", "lineHeight": 14, "fontSize": 12, "fontWeight": "bold", "font": "Liberation Sans", "color": "#111"},
      "encoding": {
        "x": {"field": "x", "type": "quantitative", "axis": null},
        "y": {"field": "y", "type": "quantitative", "axis": null},
        "text": {"field": "t", "type": "nominal"}
      }
    }
  ]
}
